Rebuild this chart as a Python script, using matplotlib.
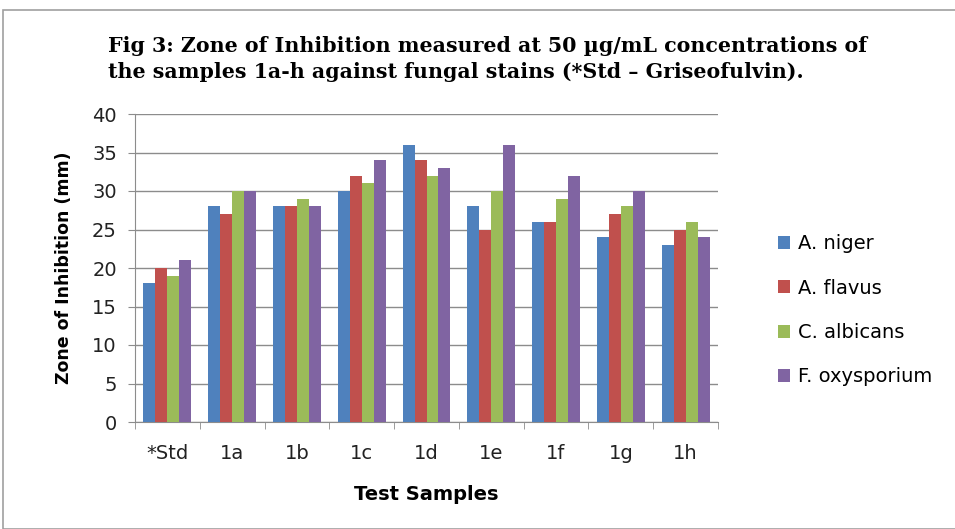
import numpy as np
import matplotlib.pyplot as plt
import matplotlib as mpl
from matplotlib.patches import Rectangle

mpl.rcParams["font.family"] = ["DejaVu Sans"]

samples = ['*Std', '1a', '1b', '1c', '1d', '1e', '1f', '1g', '1h']
series = ['A. niger', 'A. flavus', 'C. albicans', 'F. oxysporium']
a_niger = [18, 28, 28, 30, 36, 28, 26, 24, 23]
a_flavus = [20, 27, 28, 32, 34, 25, 26, 27, 25]
c_albicans = [19, 30, 29, 31, 32, 30, 29, 28, 26]
f_oxysporium = [21, 30, 28, 34, 33, 36, 32, 30, 24]
colors = ['#4F81BD', '#C0504D', '#9BBB59', '#8064A2']

W, H = 955, 529
fig = plt.figure(figsize=(W / 100, H / 100), dpi=100)
fig.patches.append(Rectangle((3 / W, 0), 1.2, 1 - 10 / H, transform=fig.transFigure,
                             fill=False, edgecolor='#a0a0a0', lw=1.2))

ax = fig.add_axes([135 / W, 1 - 422 / H, (718 - 135) / W, (422 - 114) / H])

x = np.arange(len(samples))
bw = 0.185
for i, (vals, lab) in enumerate(zip([a_niger, a_flavus, c_albicans, f_oxysporium], series)):
    ax.bar(x + (i - 1.5) * bw, vals, bw, color=colors[i], label=lab, zorder=3)

ax.set_xlim(-0.5, len(samples) - 0.5)
ax.set_ylim(0, 40)
ax.set_yticks(np.arange(0, 41, 5))
ax.grid(axis='y', color='#8c8c8c', lw=1.0, zorder=0)
for s in ['top', 'right']:
    ax.spines[s].set_visible(False)
ax.spines['left'].set_color('#8c8c8c')
ax.spines['bottom'].set_color('#8c8c8c')
ax.set_xticks(x)
ax.set_xticklabels(samples, fontsize=14, color='#222222')
ax.set_xticks(np.arange(-0.5, len(samples), 1), minor=True)
ax.tick_params(axis='x', which='major', length=0, pad=16)
ax.tick_params(axis='x', which='minor', length=5, color='#8c8c8c')
ax.tick_params(axis='y', length=5, color='#8c8c8c', labelsize=14, labelcolor='#222222', pad=8)

ax.set_xlabel('Test Samples', fontsize=14, fontweight='bold', labelpad=16)
ax.set_ylabel('Zone of Inhibition (mm)', fontsize=12.5, fontweight='bold', labelpad=14)

fig.text(108 / W, 1 - 59 / H,
         'Fig 3: Zone of Inhibition measured at 50 \u00b5g/mL concentrations of\n'
         'the samples 1a-h against fungal stains (*Std \u2013 Griseofulvin).',
         family='DejaVu Serif', fontweight='bold', fontsize=14.8,
         va='center', ha='left', linespacing=1.35)

fig.legend(loc='upper left', bbox_to_anchor=(760 / W, 1 - 217 / H), frameon=False,
           fontsize=14, handlelength=0.65, handleheight=0.65, handletextpad=0.4,
           labelspacing=1.3)

fig.savefig('out.png', dpi=100)
